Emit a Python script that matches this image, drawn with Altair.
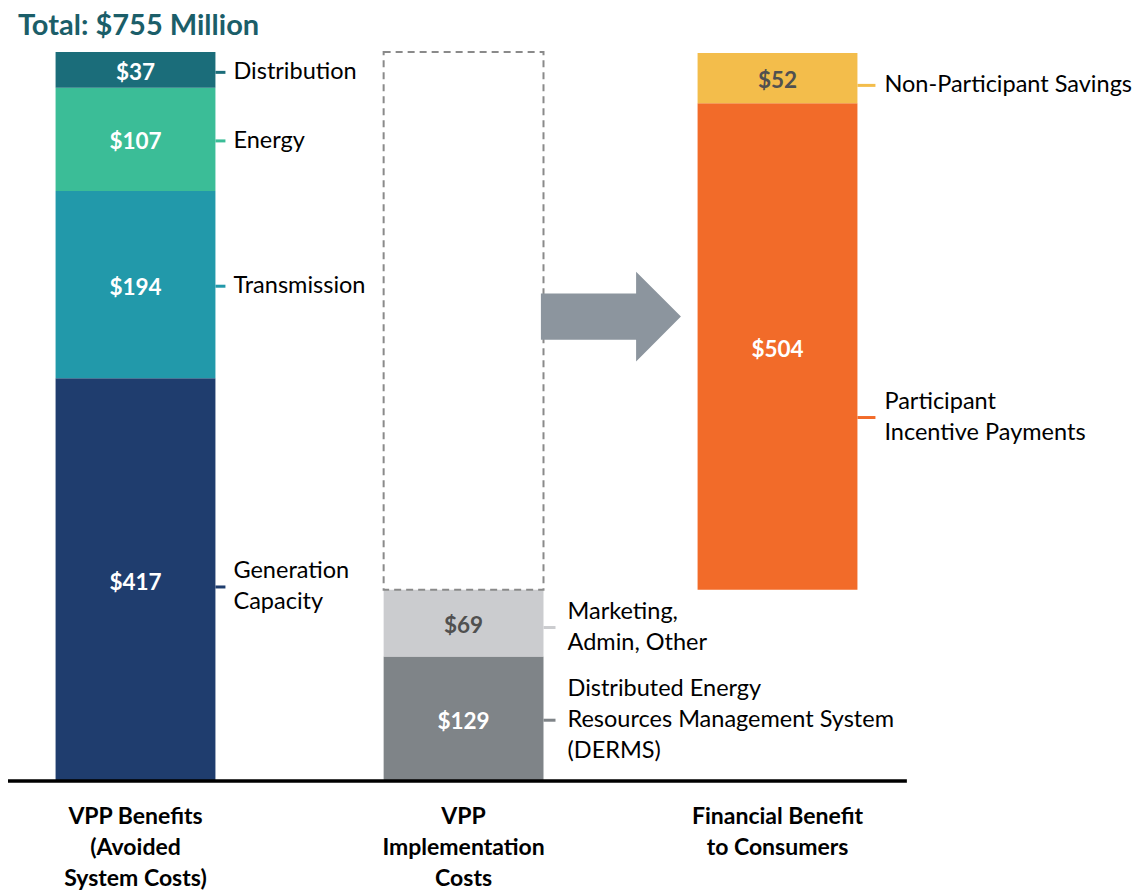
import altair as alt
import pandas as pd

# ---------------- data ----------------
bar_names = ["VPP Benefits\n(Avoided\nSystem Costs)",
             "VPP\nImplementation\nCosts",
             "Financial Benefit\nto Consumers"]

benefit_names = ["Generation\nCapacity", "Transmission", "Energy", "Distribution"]
benefit_values = [417, 194, 107, 37]

cost_names = ["Distributed Energy\nResources Management System\n(DERMS)", "Marketing,\nAdmin, Other"]
cost_values = [129, 69]

consumer_names = ["Participant\nIncentive Payments", "Non-Participant Savings"]
consumer_values = [504, 52]

total_label = "Total: $755 Million"

# ---------------- styles / layout ----------------
benefit_colors = ["#1f3d6e", "#2299aa", "#3bbd97", "#1b6d7a"]
cost_colors = ["#7f8488", "#cbcccf"]
consumer_colors = ["#f26b29", "#f3bd4b"]
benefit_text = ["white", "white", "white", "white"]
cost_text = ["white", "#505050"]
consumer_text = ["white", "#505050"]
# label anchors moved away from the segment middle ($M units)
label_shift = {"Participant\nIncentive Payments": -72,
               "Generation\nCapacity": -6,
               "Marketing,\nAdmin, Other": -3,
               "Non-Participant Savings": -6,
               "Distribution": -1}

FONT = "Lato"
SLOTS = [0, 1.022, 2.0]        # bar centres in slot units
PX = 321.0                     # pixels per slot unit
PXU = 0.9656                   # pixels per $M
HALF = 0.249                   # half bar width (slot units)
TICK_LEN = [10, 12, 18]        # px
TEXT_GAP = [18, 24, 27]        # px
LH = 31                        # line height px
LABEL_DY = 1.5                 # px downward nudge of side labels
X_DOMAIN = [-0.3972, 3.1199]
Y_DOMAIN = [-112.9, 800.6]

# ---------------- build tables ----------------
rows, lab_rows = [], []
def add(bi, names, values, colors, tcolors, base=0):
    slot = SLOTS[bi]
    y = base
    for n, v, c, t in zip(names, values, colors, tcolors):
        mid = y + v / 2
        anchor = mid + label_shift.get(n, 0) - LABEL_DY / PXU
        xr = slot + HALF
        rows.append(dict(slot=slot, name=n, value=v, y0=y, y1=y + v, mid=mid,
                         label_y=anchor, color=c, tcolor=t, vlabel=f"${v}",
                         xl=slot - HALF, xr=xr, xt=xr + TICK_LEN[bi] / PX))
        lines = n.split("\n")
        k = len(lines)
        for i, ln in enumerate(lines):
            lab_rows.append(dict(x=xr + TEXT_GAP[bi] / PX,
                                 y=anchor + ((k - 1) / 2 - i) * LH / PXU, t=ln))
        y += v

add(0, benefit_names, benefit_values, benefit_colors, benefit_text)
add(1, cost_names, cost_values, cost_colors, cost_text)
add(2, consumer_names, consumer_values, consumer_colors, consumer_text, base=sum(cost_values))
seg = pd.DataFrame(rows)
lab = pd.DataFrame(lab_rows)

xs = alt.Scale(domain=X_DOMAIN, nice=False, zero=False)
ys = alt.Scale(domain=Y_DOMAIN, nice=False, zero=False)
X = lambda f: alt.X(f, type="quantitative", scale=xs, axis=None)
Y = lambda f: alt.Y(f, type="quantitative", scale=ys, axis=None)

base = alt.Chart(seg)

bars = base.mark_rect().encode(
    x=X("xl"), x2="xr", y=Y("y0"), y2="y1",
    color=alt.Color("color:N", scale=None))

values_txt = base.mark_text(font=FONT, fontWeight="bold", fontSize=22.5, dy=3).encode(
    x=X("slot"), y=Y("mid"), text="vlabel:N",
    color=alt.Color("tcolor:N", scale=None))

ticks = base.mark_rule(strokeWidth=3).encode(
    x=X("xr"), x2="xt", y=Y("label_y"),
    color=alt.Color("color:N", scale=None))

labels = alt.Chart(lab).mark_text(font=FONT, fontSize=23.5, align="left",
                                  color="black").encode(
    x=X("x"), y=Y("y"), text="t:N")

# dashed outline over the costs bar, up to the benefits total
box_df = pd.DataFrame({"xl": [SLOTS[1] - HALF], "xr": [SLOTS[1] + HALF],
                       "y0": [sum(cost_values)], "y1": [sum(benefit_values)]})
box = alt.Chart(box_df).mark_rect(fillOpacity=0, stroke="#8a8a8a", strokeWidth=2,
                                  strokeDash=[7, 5]).encode(
    x=X("xl"), x2="xr", y=Y("y0"), y2="y1")

# baseline
base_df = pd.DataFrame({"x0": [X_DOMAIN[0]], "x1": [2.403], "y": [0]})
baseline = alt.Chart(base_df).mark_rule(strokeWidth=3.5, color="black").encode(
    x=X("x0"), x2="x1", y=Y("y"))

# arrow
ARROW = "M-1,-0.33L0.36,-0.33L0.36,-0.64L1,0L0.36,0.64L0.36,0.33L-1,0.33Z"
arrow_df = pd.DataFrame({"x": [1.481], "y": [481]})
arrow = alt.Chart(arrow_df).mark_point(shape=ARROW, filled=True, size=19600,
                                       color="#8c959e", opacity=1, strokeWidth=0).encode(
    x=X("x"), y=Y("y"))

# category labels (one row per line)
cat_rows = []
for bi, nm in enumerate(bar_names):
    for i, ln in enumerate(nm.split("\n")):
        cat_rows.append(dict(x=SLOTS[bi], y=-37.3 - i * LH / PXU, t=ln))
cats = alt.Chart(pd.DataFrame(cat_rows)).mark_text(
    font=FONT, fontWeight="bold", fontSize=23, color="black").encode(
    x=X("x"), y=Y("y"), text="t:N")

# title
title_df = pd.DataFrame({"x": [X_DOMAIN[0] + 0.031], "y": [772.8], "t": [total_label]})
title = alt.Chart(title_df).mark_text(font=FONT, fontWeight="bold", fontSize=29,
                                      align="left", baseline="alphabetic",
                                      color="#1b5e69").encode(
    x=X("x"), y=Y("y"), text="t:N")

chart = alt.layer(bars, box, values_txt, ticks, labels, baseline, arrow, cats, title).properties(
    width=1129, height=882, padding=0,
    autosize=alt.AutoSizeParams(type="none")
).configure_view(stroke=None)

chart.save("out.html", embed_options={"renderer": "svg", "actions": False})
